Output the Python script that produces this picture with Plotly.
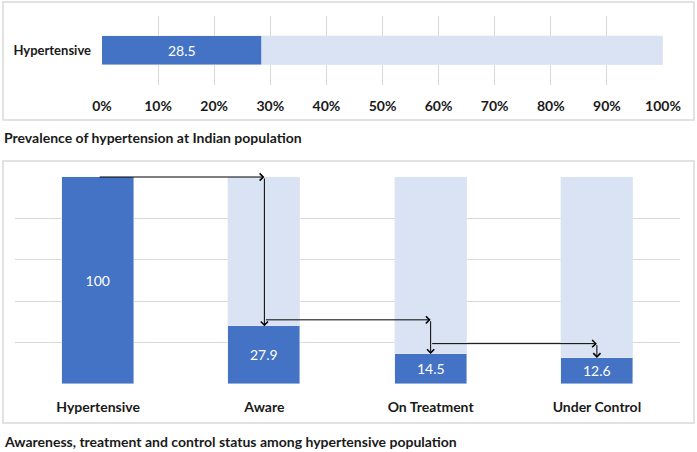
import plotly.graph_objects as go

# ---- data ----
prev_label = ["Hypertensive"]
prev_value = [28.5]
prev_total = 100

cascade_cats = ["Hypertensive", "Aware", "On Treatment", "Under Control"]
cascade_values = [100, 27.9, 14.5, 12.6]
cascade_total = 100
arrow_levels = [100, 31, 19.5]   # heights of the horizontal connector arrows

top_title = "Prevalence of hypertension at Indian population"
bottom_title = "Awareness, treatment and control status among hypertensive population"

DARK = "#4472C4"
LIGHT = "#DAE3F3"
GRID = "#D9D9D9"
FONT = "Lato"
TXT = "#1a1a1a"

W, H = 697, 452
def px(x):
    return x / W
def py(y):
    return 1 - y / H

fig = go.Figure()

# top: horizontal stacked bar
fig.add_trace(go.Bar(
    y=prev_label, x=prev_value, orientation="h", marker_color=DARK,
    text=[f"{v}" for v in prev_value], textposition="inside", insidetextanchor="middle",
    textfont=dict(color="white", size=14, family=FONT), width=0.42,
    xaxis="x", yaxis="y", hoverinfo="skip"))
fig.add_trace(go.Bar(
    y=prev_label, x=[prev_total - v for v in prev_value], orientation="h", marker_color=LIGHT,
    width=0.42, xaxis="x", yaxis="y", hoverinfo="skip"))

# bottom: vertical stacked bars
fig.add_trace(go.Bar(
    x=cascade_cats, y=cascade_values, marker_color=DARK,
    text=[f"{v:g}" for v in cascade_values], textposition="inside", insidetextanchor="middle",
    textfont=dict(color="white", size=14, family=FONT), width=0.434,
    xaxis="x2", yaxis="y2", hoverinfo="skip"))
fig.add_trace(go.Bar(
    x=cascade_cats, y=[cascade_total - v for v in cascade_values], marker_color=LIGHT,
    width=0.434, xaxis="x2", yaxis="y2", hoverinfo="skip"))

annotations = []
# connector arrows
n = len(cascade_cats)
for i in range(n - 1):
    lvl = arrow_levels[i]
    # horizontal segment
    annotations.append(dict(
        x=i + 1, y=lvl, ax=i, ay=lvl, xref="x2", yref="y2", axref="x2", ayref="y2",
        text="", showarrow=True, arrowhead=4, arrowsize=1.4, arrowwidth=1,
        arrowcolor="#000000", standoff=0, startstandoff=0))
    # vertical segment
    annotations.append(dict(
        x=i + 1, y=cascade_values[i + 1], ax=i + 1, ay=lvl,
        xref="x2", yref="y2", axref="x2", ayref="y2",
        text="", showarrow=True, arrowhead=4, arrowsize=1.4, arrowwidth=1,
        arrowcolor="#000000", standoff=0, startstandoff=0))

annotations.append(dict(text=f"<b>{top_title}</b>", x=px(2), y=py(137), xref="paper", yref="paper",
                        xanchor="left", yanchor="middle", showarrow=False,
                        font=dict(size=14, family=FONT, color=TXT)))
annotations.append(dict(text=f"<b>{bottom_title}</b>", x=px(2), y=py(441), xref="paper", yref="paper",
                        xanchor="left", yanchor="middle", showarrow=False,
                        font=dict(size=14, family=FONT, color=TXT)))

shapes = [
    dict(type="rect", xref="paper", yref="paper", x0=px(3), x1=px(694), y0=py(120), y1=py(2),
         line=dict(color=GRID, width=1.5), fillcolor="rgba(0,0,0,0)", layer="below"),
    dict(type="rect", xref="paper", yref="paper", x0=px(3), x1=px(694), y0=py(423), y1=py(161),
         line=dict(color=GRID, width=1.5), fillcolor="rgba(0,0,0,0)", layer="below"),
]

fig.update_layout(
    width=W, height=H, margin=dict(l=0, r=0, t=0, b=0, pad=0, autoexpand=False),
    paper_bgcolor="white", plot_bgcolor="white",
    barmode="stack", showlegend=False, bargap=0,
    font=dict(family=FONT, color=TXT),
    annotations=annotations, shapes=shapes,
    xaxis=dict(domain=[px(102), px(663)], range=[0, 100], dtick=10, ticksuffix="%",
               showgrid=True, gridcolor=GRID, zeroline=False, showline=False,
               anchor="y", ticklabelstandoff=11, automargin=False,
               tickfont=dict(size=14, family=FONT, color=TXT, weight="bold")),
    yaxis=dict(domain=[py(85), py(16)], showgrid=False, zeroline=False, showline=False,
               anchor="x", ticklabelstandoff=10, range=[-0.5, 0.5], automargin=False,
               tickfont=dict(size=13, family=FONT, color=TXT, weight="bold")),
    xaxis2=dict(domain=[px(15), px(680)], range=[-0.5, 3.5], showgrid=False, zeroline=False,
                showline=False, anchor="y2", ticklabelstandoff=13, automargin=False,
                tickfont=dict(size=14, family=FONT, color=TXT, weight="bold")),
    yaxis2=dict(domain=[py(384), py(177)], range=[0, 100], dtick=20, showticklabels=False,
                showgrid=True, gridcolor=GRID, zeroline=False, showline=False, anchor="x2",
                automargin=False),
)

fig.write_html("out.html", config={"displayModeBar": False},
               post_script="document.body.style.margin='0px';document.body.style.padding='0px';")
